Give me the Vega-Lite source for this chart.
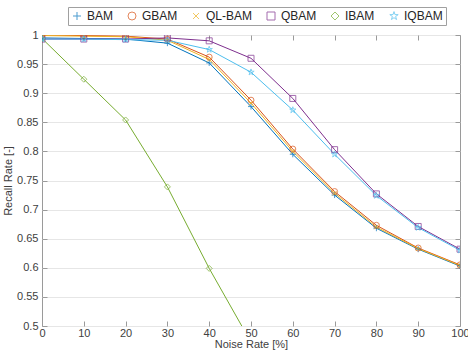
{
  "$schema": "https://vega.github.io/schema/vega-lite/v6.json",
  "width": 418,
  "height": 291,
  "autosize": {"type": "none"},
  "padding": {"left": 42, "top": 35, "right": 8, "bottom": 26},
  "background": "white",
  "config": {
    "font": "Liberation Sans",
    "view": {"stroke": "#9a9a9a", "strokeWidth": 1},
    "axis": {
      "labelFont": "Liberation Sans",
      "titleFont": "Liberation Sans",
      "labelFontSize": 11,
      "titleFontSize": 11,
      "titleFontWeight": "normal",
      "labelColor": "#404040",
      "titleColor": "#404040",
      "domainColor": "#9a9a9a",
      "tickColor": "#9a9a9a",
      "gridColor": "#e6e6e6",
      "labelOverlap": false,
      "labelBound": false,
      "labelFlush": false
    },
    "legend": {"strokeColor": "#a0a0a0", "fillColor": "white", "padding": 3}
  },
  "data": {
    "values": [
      {"x": 0, "y": 0.995, "s": "BAM"}, {"x": 10, "y": 0.994, "s": "BAM"}, {"x": 20, "y": 0.993, "s": "BAM"}, {"x": 30, "y": 0.986, "s": "BAM"}, {"x": 40, "y": 0.952, "s": "BAM"}, {"x": 50, "y": 0.877, "s": "BAM"}, {"x": 60, "y": 0.795, "s": "BAM"}, {"x": 70, "y": 0.725, "s": "BAM"}, {"x": 80, "y": 0.668, "s": "BAM"}, {"x": 90, "y": 0.632, "s": "BAM"}, {"x": 100, "y": 0.603, "s": "BAM"},
      {"x": 0, "y": 1.0, "s": "GBAM"}, {"x": 10, "y": 0.999, "s": "GBAM"}, {"x": 20, "y": 0.998, "s": "GBAM"}, {"x": 30, "y": 0.993, "s": "GBAM"}, {"x": 40, "y": 0.962, "s": "GBAM"}, {"x": 50, "y": 0.888, "s": "GBAM"}, {"x": 60, "y": 0.804, "s": "GBAM"}, {"x": 70, "y": 0.731, "s": "GBAM"}, {"x": 80, "y": 0.673, "s": "GBAM"}, {"x": 90, "y": 0.634, "s": "GBAM"}, {"x": 100, "y": 0.605, "s": "GBAM"},
      {"x": 0, "y": 0.999, "s": "QL-BAM"}, {"x": 10, "y": 0.998, "s": "QL-BAM"}, {"x": 20, "y": 0.997, "s": "QL-BAM"}, {"x": 30, "y": 0.991, "s": "QL-BAM"}, {"x": 40, "y": 0.958, "s": "QL-BAM"}, {"x": 50, "y": 0.883, "s": "QL-BAM"}, {"x": 60, "y": 0.8, "s": "QL-BAM"}, {"x": 70, "y": 0.728, "s": "QL-BAM"}, {"x": 80, "y": 0.67, "s": "QL-BAM"}, {"x": 90, "y": 0.633, "s": "QL-BAM"}, {"x": 100, "y": 0.604, "s": "QL-BAM"},
      {"x": 0, "y": 0.993, "s": "QBAM"}, {"x": 10, "y": 0.993, "s": "QBAM"}, {"x": 20, "y": 0.993, "s": "QBAM"}, {"x": 30, "y": 0.995, "s": "QBAM"}, {"x": 40, "y": 0.99, "s": "QBAM"}, {"x": 50, "y": 0.96, "s": "QBAM"}, {"x": 60, "y": 0.891, "s": "QBAM"}, {"x": 70, "y": 0.803, "s": "QBAM"}, {"x": 80, "y": 0.727, "s": "QBAM"}, {"x": 90, "y": 0.671, "s": "QBAM"}, {"x": 100, "y": 0.632, "s": "QBAM"},
      {"x": 0, "y": 0.994, "s": "IBAM"}, {"x": 10, "y": 0.924, "s": "IBAM"}, {"x": 20, "y": 0.854, "s": "IBAM"}, {"x": 30, "y": 0.739, "s": "IBAM"}, {"x": 40, "y": 0.599, "s": "IBAM"}, {"x": 50, "y": 0.472, "s": "IBAM"},
      {"x": 0, "y": 0.993, "s": "IQBAM"}, {"x": 10, "y": 0.993, "s": "IQBAM"}, {"x": 20, "y": 0.992, "s": "IQBAM"}, {"x": 30, "y": 0.991, "s": "IQBAM"}, {"x": 40, "y": 0.975, "s": "IQBAM"}, {"x": 50, "y": 0.936, "s": "IQBAM"}, {"x": 60, "y": 0.871, "s": "IQBAM"}, {"x": 70, "y": 0.795, "s": "IQBAM"}, {"x": 80, "y": 0.724, "s": "IQBAM"}, {"x": 90, "y": 0.669, "s": "IQBAM"}, {"x": 100, "y": 0.63, "s": "IQBAM"}
    ]
  },
  "layer": [
    {
      "mark": {"type": "line", "strokeWidth": 1, "clip": true},
      "encoding": {
        "x": {"field": "x", "type": "quantitative", "scale": {"domain": [0, 100], "nice": false},
          "axis": {"title": "Noise Rate [%]", "values": [0, 10, 20, 30, 40, 50, 60, 70, 80, 90, 100], "grid": false, "tickSize": -5, "labelPadding": 6, "titlePadding": 0, "domain": false}},
        "y": {"field": "y", "type": "quantitative", "scale": {"domain": [0.5, 1], "nice": false, "zero": false},
          "axis": {"title": "Recall Rate [-]", "values": [0.5, 0.55, 0.6, 0.65, 0.7, 0.75, 0.8, 0.85, 0.9, 0.95, 1], "format": "~g", "grid": true, "tickSize": -5, "labelPadding": 9, "titlePadding": 3, "domain": false}},
        "color": {"field": "s", "type": "nominal", "sort": ["BAM", "GBAM", "QL-BAM", "QBAM", "IBAM", "IQBAM"],
          "scale": {"domain": ["BAM", "GBAM", "QL-BAM", "QBAM", "IBAM", "IQBAM"], "range": ["#0072BD", "#D95319", "#EDB120", "#7E2F8E", "#77AC30", "#4DBEEE"]},
          "legend": {
            "orient": "none", "direction": "horizontal", "legendX": 26, "legendY": -28,
            "title": null, "labelFontSize": 12, "labelColor": "#262626", "labelFont": "Liberation Sans",
            "symbolSize": 64, "symbolStrokeWidth": 1, "labelOffset": 4, "columnPadding": 12,
            "strokeColor": "#a0a0a0", "padding": 3, "fillColor": "white"
          }}
      }
    },
    {
      "mark": {"type": "point", "filled": false, "size": 36, "strokeWidth": 1, "clip": true},
      "encoding": {
        "x": {"field": "x", "type": "quantitative", "axis": null},
        "y": {"field": "y", "type": "quantitative", "axis": null},
        "color": {"field": "s", "type": "nominal", "sort": ["BAM", "GBAM", "QL-BAM", "QBAM", "IBAM", "IQBAM"],
          "legend": {
            "orient": "none", "direction": "horizontal", "legendX": 26, "legendY": -28,
            "title": null, "labelFontSize": 12, "labelColor": "#262626", "labelFont": "Liberation Sans",
            "symbolSize": 64, "symbolStrokeWidth": 1, "labelOffset": 4, "columnPadding": 12,
            "strokeColor": "#a0a0a0", "padding": 3, "fillColor": "white"
          }},
        "shape": {"field": "s", "type": "nominal", "sort": ["BAM", "GBAM", "QL-BAM", "QBAM", "IBAM", "IQBAM"],
          "scale": {"domain": ["BAM", "GBAM", "QL-BAM", "QBAM", "IBAM", "IQBAM"], "range": ["M-1,0L1,0M0,-1L0,1", "circle", "M-0.75,-0.75L0.75,0.75M-0.75,0.75L0.75,-0.75", "square", "diamond", "M0,-1.1L0.247,-0.34L1.046,-0.34L0.399,0.13L0.647,0.89L0,0.42L-0.647,0.89L-0.399,0.13L-1.046,-0.34L-0.247,-0.34Z"]},
          "legend": {
            "orient": "none", "direction": "horizontal", "legendX": 26, "legendY": -28,
            "title": null, "labelFontSize": 12, "labelColor": "#262626", "labelFont": "Liberation Sans",
            "symbolSize": 64, "symbolStrokeWidth": 1, "labelOffset": 4, "columnPadding": 12,
            "strokeColor": "#a0a0a0", "padding": 3, "fillColor": "white"
          }}
      }
    },
    {
      "mark": {"type": "point", "opacity": 0},
      "encoding": {
        "x": {"field": "x", "type": "quantitative",
          "axis": {"orient": "top", "title": null, "labels": false, "grid": false, "domain": false, "tickSize": -5, "values": [0, 10, 20, 30, 40, 50, 60, 70, 80, 90, 100]}},
        "y": {"field": "y", "type": "quantitative",
          "axis": {"orient": "right", "title": null, "labels": false, "grid": false, "domain": false, "tickSize": -5, "values": [0.5, 0.55, 0.6, 0.65, 0.7, 0.75, 0.8, 0.85, 0.9, 0.95, 1]}}
      }
    }
  ],
  "resolve": {"axis": {"x": "independent", "y": "independent"}}
}
